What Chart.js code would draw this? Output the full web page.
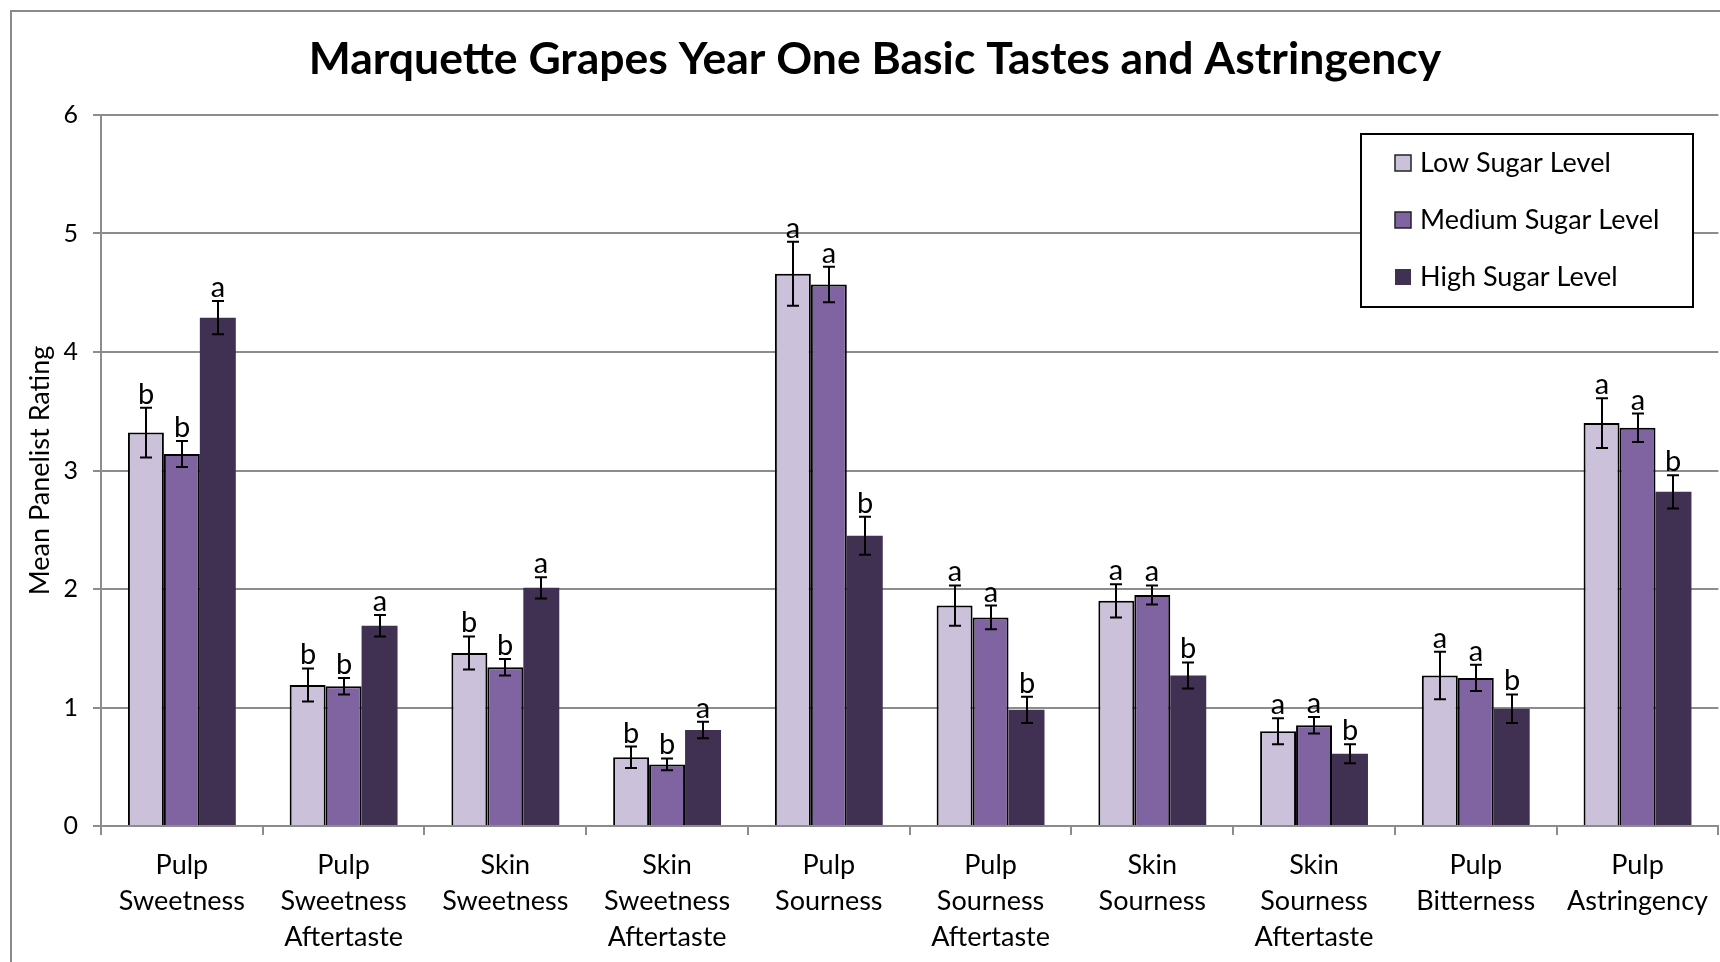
<!DOCTYPE html>
<html>
<head>
<meta charset="utf-8">
<title>Marquette Grapes Year One Basic Tastes and Astringency</title>
<script src="https://cdn.jsdelivr.net/npm/chart.js@4.4.1/dist/chart.umd.min.js"></script>
<style>
  html, body { margin: 0; padding: 0; background: #ffffff; }
  #wrap { position: relative; width: 1720px; height: 962px; overflow: hidden; }
  canvas { display: block; }
</style>
</head>
<body>
<div id="wrap"><canvas id="chart" width="1720" height="962"></canvas></div>
<script>
// Sensory attributes (multi-line category labels)
const categories = [
  ['Pulp', 'Sweetness'],
  ['Pulp', 'Sweetness', 'Aftertaste'],
  ['Skin', 'Sweetness'],
  ['Skin', 'Sweetness', 'Aftertaste'],
  ['Pulp', 'Sourness'],
  ['Pulp', 'Sourness', 'Aftertaste'],
  ['Skin', 'Sourness'],
  ['Skin', 'Sourness', 'Aftertaste'],
  ['Pulp', 'Bitterness'],
  ['Pulp', 'Astringency']
];

const seriesNames = ['Low Sugar Level', 'Medium Sugar Level', 'High Sugar Level'];

// Mean panelist ratings
const lowSugar    = [3.32, 1.19, 1.46, 0.58, 4.66, 1.86, 1.90, 0.80, 1.27, 3.40];
const mediumSugar = [3.14, 1.18, 1.34, 0.52, 4.57, 1.76, 1.95, 0.85, 1.25, 3.36];
const highSugar   = [4.29, 1.69, 2.01, 0.81, 2.45, 0.98, 1.27, 0.61, 0.99, 2.82];

// Standard errors
const lowErr    = [0.21, 0.14, 0.14, 0.09, 0.27, 0.17, 0.14, 0.11, 0.20, 0.21];
const mediumErr = [0.11, 0.07, 0.07, 0.05, 0.15, 0.10, 0.08, 0.07, 0.11, 0.12];
const highErr   = [0.14, 0.09, 0.09, 0.07, 0.16, 0.11, 0.11, 0.08, 0.12, 0.14];

// Significance groupings
const lowGroups    = ['b', 'b', 'b', 'b', 'a', 'a', 'a', 'a', 'a', 'a'];
const mediumGroups = ['b', 'b', 'b', 'b', 'a', 'a', 'a', 'a', 'a', 'a'];
const highGroups   = ['a', 'a', 'a', 'a', 'b', 'b', 'b', 'b', 'b', 'b'];

// Y axis ticks
const yTicks = [0, 1, 2, 3, 4, 5, 6];

const FONT = 'Lato, "Open Sans", "DejaVu Sans", sans-serif';
const GRID = '#8c8c8c';
const colors = ['#ccc1da', '#8064a2', '#403152'];
const outlines = ['#000000', '#000000', '#403152'];

// Outer chart frame and white background
const framePlugin = {
  id: 'frame',
  beforeDraw(chart) {
    const ctx = chart.ctx;
    ctx.save();
    ctx.fillStyle = '#ffffff';
    ctx.fillRect(0, 0, chart.width, chart.height);
    ctx.strokeStyle = '#8a8a8a';
    ctx.lineWidth = 2;
    ctx.strokeRect(11, 11, 1800, 1100);
    ctx.restore();
  }
};

// Chart heading
const headingPlugin = {
  id: 'heading',
  afterDraw(chart) {
    const ctx = chart.ctx;
    ctx.save();
    ctx.fillStyle = '#000000';
    ctx.font = 'bold 44.5px ' + FONT;
    ctx.textAlign = 'center';
    ctx.textBaseline = 'alphabetic';
    ctx.fillText('Marquette Grapes Year One Basic Tastes and Astringency', 875, 74);
    ctx.restore();
  }
};

// Error bars with significance letters above each bar
const errorBarPlugin = {
  id: 'errorBars',
  afterDatasetsDraw(chart) {
    const ctx = chart.ctx;
    const ys = chart.scales.y;
    ctx.save();
    ctx.strokeStyle = '#000000';
    ctx.lineWidth = 2;
    ctx.fillStyle = '#000000';
    ctx.font = '29px ' + FONT;
    ctx.textAlign = 'center';
    ctx.textBaseline = 'alphabetic';
    chart.data.datasets.forEach((ds, di) => {
      const meta = chart.getDatasetMeta(di);
      meta.data.forEach((bar, i) => {
        const v = ds.data[i];
        const e = ds.errors[i];
        const yTop = ys.getPixelForValue(v + e);
        const yBot = ys.getPixelForValue(v - e);
        const x = Math.round(bar.x);
        ctx.beginPath();
        ctx.moveTo(x, yTop); ctx.lineTo(x, yBot);
        ctx.moveTo(x - 6, yTop); ctx.lineTo(x + 6, yTop);
        ctx.moveTo(x - 6, yBot); ctx.lineTo(x + 6, yBot);
        ctx.stroke();
        ctx.fillText(ds.groups[i], x, yTop - 4);
      });
    });
    ctx.restore();
  }
};

// Boxed legend in the upper right of the plot
const legendBoxPlugin = {
  id: 'legendBox',
  afterDraw(chart) {
    const ctx = chart.ctx;
    const box = { x: 1361, y: 134, w: 332, h: 173 };
    ctx.save();
    ctx.fillStyle = '#ffffff';
    ctx.fillRect(box.x, box.y, box.w, box.h);
    ctx.strokeStyle = '#000000';
    ctx.lineWidth = 2;
    ctx.strokeRect(box.x, box.y, box.w, box.h);
    ctx.font = '27px ' + FONT;
    ctx.textAlign = 'left';
    ctx.textBaseline = 'alphabetic';
    chart.data.datasets.forEach((ds, i) => {
      const base = 172 + i * 57;
      ctx.fillStyle = ds.backgroundColor;
      ctx.fillRect(1395, base - 17, 16, 16);
      if (i < 2) {
        ctx.strokeStyle = '#222222';
        ctx.lineWidth = 1.5;
        ctx.strokeRect(1395, base - 17, 16, 16);
      }
      ctx.fillStyle = '#000000';
      ctx.fillText(ds.label, 1420, base);
    });
    ctx.restore();
  }
};

const seriesValues = [lowSugar, mediumSugar, highSugar];
const seriesErrors = [lowErr, mediumErr, highErr];
const seriesGroups = [lowGroups, mediumGroups, highGroups];

const datasets = seriesNames.map((name, i) => ({
  label: name,
  data: seriesValues[i],
  errors: seriesErrors[i],
  groups: seriesGroups[i],
  backgroundColor: colors[i],
  borderColor: outlines[i],
  borderWidth: i < 2 ? 2 : 0,
  categoryPercentage: 0.667,
  barPercentage: 1.0
}));

new Chart(document.getElementById('chart'), {
  type: 'bar',
  data: { labels: categories, datasets: datasets },
  plugins: [framePlugin, errorBarPlugin, legendBoxPlugin, headingPlugin],
  options: {
    responsive: false,
    animation: false,
    devicePixelRatio: 1,
    layout: { padding: { top: 115, left: 0, right: 0, bottom: 0 } },
    plugins: {
      legend: { display: false },
      title: { display: false },
      tooltip: { enabled: false }
    },
    scales: {
      x: {
        grid: {
          display: true,
          drawOnChartArea: false,
          drawTicks: true,
          tickLength: 9,
          offset: true,
          color: GRID,
          lineWidth: 2
        },
        border: { display: true, color: GRID, width: 2 },
        ticks: {
          color: '#000000',
          font: { family: FONT, size: 27, lineHeight: '36px' },
          padding: 12,
          maxRotation: 0,
          autoSkip: false
        },
        afterFit(scale) { scale.height = 136; }
      },
      y: {
        min: yTicks[0],
        max: yTicks[yTicks.length - 1],
        afterBuildTicks(scale) { scale.ticks = yTicks.map(v => ({ value: v })); },
        grid: {
          color: GRID,
          lineWidth: 2,
          tickLength: 8
        },
        border: { display: true, color: GRID, width: 2 },
        ticks: {
          color: '#000000',
          font: { family: FONT, size: 25 },
          padding: 15
        },
        title: {
          display: true,
          text: 'Mean Panelist Rating',
          color: '#000000',
          font: { family: FONT, size: 27 },
          padding: { top: 24, bottom: 0 }
        },
        afterFit(scale) { scale.width = 101; }
      }
    }
  }
});
</script>
</body>
</html>
